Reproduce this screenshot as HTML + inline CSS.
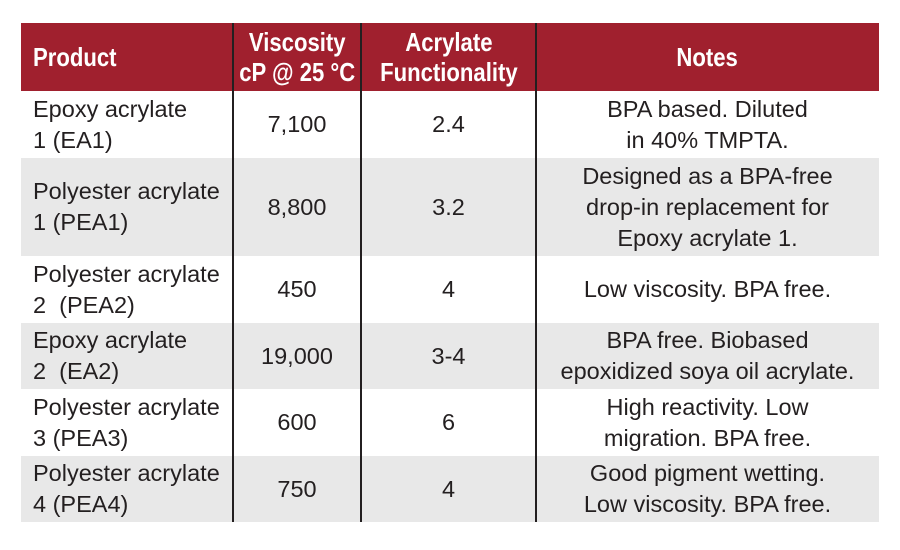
<!DOCTYPE html>
<html><head><meta charset="utf-8"><style>
body{margin:0;width:900px;height:550px;background:#fff;position:relative;overflow:hidden;font-family:"Liberation Sans",sans-serif;color:#231f20}
.r{position:absolute;left:21px;width:858px}
.c{position:absolute;top:0;bottom:0;display:flex;align-items:center;font-size:23.5px;line-height:31px}
.h .c{color:#fff;font-weight:bold;font-size:26px;line-height:30px}
.h .c span{display:inline-block;transform:scaleX(0.85);white-space:nowrap}
.c1{left:0;width:200px;padding-left:12px}
.h .c1 span{transform-origin:left center}
.c2{left:212px;width:128px;justify-content:center;text-align:center}
.c3{left:340px;width:175px;justify-content:center;text-align:center}
.c4{left:515px;width:343px;justify-content:center;text-align:center}
.v{position:absolute;width:2px;background:#231f20;top:23px;height:499px}
</style></head><body>
<div class="r h" style="top:23px;height:68px;background:#a0202e">
<div class="c c1"><span>Product</span></div><div class="c c2"><span>Viscosity<br>cP @ 25 °C</span></div><div class="c c3"><span>Acrylate<br>Functionality</span></div><div class="c c4"><span>Notes</span></div></div>
<div class="r" style="top:91px;height:67px"><div class="c c1">Epoxy acrylate<br>1 (EA1)</div><div class="c c2">7,100</div><div class="c c3">2.4</div><div class="c c4">BPA based. Diluted<br>in 40% TMPTA.</div></div>
<div class="r" style="top:158px;height:98px;background:#e8e8e8"><div class="c c1">Polyester acrylate<br>1 (PEA1)</div><div class="c c2">8,800</div><div class="c c3">3.2</div><div class="c c4">Designed as a BPA-free<br>drop-in replacement for<br>Epoxy acrylate 1.</div></div>
<div class="r" style="top:256px;height:67px"><div class="c c1">Polyester acrylate<br>2 &nbsp;(PEA2)</div><div class="c c2">450</div><div class="c c3">4</div><div class="c c4">Low viscosity. BPA free.</div></div>
<div class="r" style="top:323px;height:66px;background:#e8e8e8"><div class="c c1">Epoxy acrylate<br>2 &nbsp;(EA2)</div><div class="c c2">19,000</div><div class="c c3">3-4</div><div class="c c4">BPA free. Biobased<br>epoxidized soya oil acrylate.</div></div>
<div class="r" style="top:389px;height:67px"><div class="c c1">Polyester acrylate<br>3 (PEA3)</div><div class="c c2">600</div><div class="c c3">6</div><div class="c c4">High reactivity. Low<br>migration. BPA free.</div></div>
<div class="r" style="top:456px;height:66px;background:#e8e8e8"><div class="c c1">Polyester acrylate<br>4 (PEA4)</div><div class="c c2">750</div><div class="c c3">4</div><div class="c c4">Good pigment wetting.<br>Low viscosity. BPA free.</div></div>
<div class="v" style="left:232px"></div><div class="v" style="left:360px"></div><div class="v" style="left:535px"></div>
</body></html>
